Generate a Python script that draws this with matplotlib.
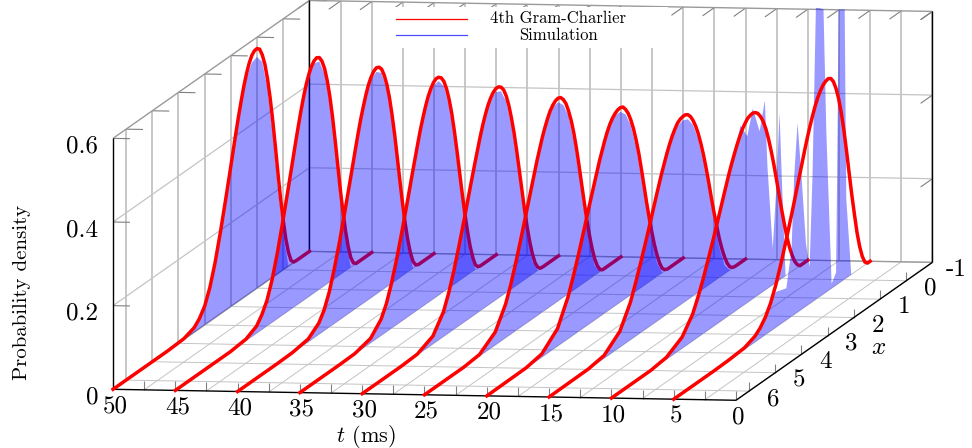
import matplotlib
matplotlib.use('Agg')
import matplotlib.pyplot as plt
from matplotlib.lines import Line2D
from matplotlib.patches import Rectangle
from mpl_toolkits.mplot3d import proj3d
from mpl_toolkits.mplot3d.art3d import Poly3DCollection

plt.rcParams['mathtext.fontset'] = 'cm'
plt.rcParams['font.family'] = ['cmr10', 'DejaVu Serif']
plt.rcParams['axes.formatter.use_mathtext'] = True

W_PX, H_PX = 972, 448

times = [50, 45, 40, 35, 30, 25, 20, 15, 10, 5]
t_grid = [0, 2.5, 5, 7.5, 10, 12.5, 15, 17.5, 20, 22.5, 25, 27.5, 30, 32.5, 35, 37.5, 40, 42.5, 45, 47.5, 50]
t_labels = [50, 45, 40, 35, 30, 25, 20, 15, 10, 5, 0]
x_ticks = [-1, 0, 1, 2, 3, 4, 5, 6]
z_ticks = [0.2, 0.4, 0.6]

# x values of the red curves
x_gc = [-1, -.9, -.8, -.7, -.6, -.5, -.4, -.3, -.2, -.1,
        0, .1, .2, .3, .4, .5, .6, .7, .8, .9,
        1, 1.1, 1.2, 1.3, 1.4, 1.5, 1.6, 1.7, 1.8, 1.9,
        2, 2.2, 2.4, 2.6, 2.8, 3, 3.2, 3.4, 3.8, 4.4, 5, 6.5]

# 4th Gram-Charlier curves
gc_50 = [0, 0, 0, 0, 0, 0, .001, .009, .033, .069,
         .118, .174, .239, .308, .374, .433, .483, .522, .549, .567,
         .573, .572, .565, .551, .531, .506, .476, .444, .409, .373,
         .336, .264, .195, .132, .081, .045, .024, .011, .002, 0, 0, 0]
gc_45 = [0, 0, 0, 0, 0, 0, 0, .006, .023, .054,
         .096, .146, .204, .268, .332, .392, .444, .486, .519, .541,
         .554, .558, .555, .546, .532, .512, .487, .458, .426, .393,
         .358, .289, .222, .158, .103, .061, .035, .017, .004, 0, 0, 0]
gc_40 = [0, 0, 0, 0, 0, 0, 0, .004, .016, .041,
         .076, .12, .172, .23, .29, .349, .401, .447, .483, .51,
         .529, .538, .541, .537, .528, .514, .494, .47, .444, .414,
         .382, .316, .252, .189, .133, .084, .049, .027, .007, .001, 0, 0]
gc_35 = [0, 0, 0, 0, 0, 0, 0, .002, .011, .033,
         .064, .104, .15, .202, .257, .313, .365, .412, .45, .48,
         .502, .515, .521, .522, .517, .507, .493, .474, .451, .426,
         .397, .337, .275, .215, .158, .108, .067, .039, .011, .001, 0, 0]
gc_30 = [0, 0, 0, 0, 0, 0, 0, .001, .008, .023,
         .048, .081, .121, .167, .218, .27, .321, .368, .408, .443,
         .47, .489, .5, .505, .505, .5, .491, .478, .46, .439,
         .415, .361, .305, .247, .192, .14, .095, .059, .019, .002, 0, 0]
gc_25 = [0, 0, 0, 0, 0, 0, 0, 0, .005, .018,
         .039, .068, .104, .145, .192, .24, .289, .335, .376, .41,
         .437, .459, .473, .482, .485, .483, .477, .468, .454, .437,
         .418, .372, .32, .268, .216, .166, .12, .081, .031, .004, 0, 0]
gc_20 = [0, 0, 0, 0, 0, 0, 0, .003, .01, .027,
         .051, .08, .115, .153, .195, .24, .284, .326, .362, .393,
         .418, .438, .452, .462, .465, .464, .46, .453, .443, .429,
         .412, .372, .326, .279, .231, .184, .14, .10, .042, .008, .001, 0]
gc_15 = [0, 0, 0, 0, 0, .002, .008, .021, .04, .064,
         .093, .127, .163, .202, .243, .282, .318, .35, .378, .401,
         .419, .433, .442, .446, .446, .444, .439, .429, .417, .402,
         .385, .346, .302, .256, .211, .168, .127, .089, .038, .007, .001, 0]
gc_10 = [0, 0, 0, 0, .007, .019, .038, .062, .091, .127,
         .165, .206, .247, .287, .323, .356, .384, .406, .422, .434,
         .441, .444, .443, .44, .432, .423, .41, .395, .378, .36,
         .341, .298, .254, .211, .17, .13, .095, .064, .027, .005, 0, 0]
gc_05 = [0, 0, .007, .025, .053, .091, .139, .19, .246, .303,
         .357, .403, .441, .47, .491, .503, .507, .505, .5, .491,
         .479, .463, .444, .423, .4, .375, .348, .322, .296, .269,
         .243, .193, .145, .102, .067, .042, .025, .014, .004, .001, 0, 0]

# x values of the simulation fills, down to t=15
x_vals = [-1, -.8, -.6, -.4, -.2, 0, .2, .4, .6, .8, 1, 1.2, 1.4, 1.6, 1.8, 2, 2.2, 2.4, 2.6, 2.8, 3, 3.2, 3.4, 3.8, 4.4, 5, 6.5]
sim_50 = [0, 0, 0, 0, 0, .085, .205, .345, .46, .532, .553, .548, .52, .47, .409, .336, .264, .195, .132, .081, .045, .024, .011, .002, 0, 0, 0]
sim_45 = [0, 0, 0, 0, 0, .075, .18, .31, .425, .505, .545, .548, .528, .486, .426, .358, .289, .222, .158, .103, .061, .035, .017, .004, 0, 0, 0]
sim_40 = [0, 0, 0, 0, 0, .058, .152, .268, .382, .47, .52, .531, .522, .49, .444, .382, .316, .252, .189, .133, .084, .049, .027, .007, .001, 0, 0]
sim_35 = [0, 0, 0, 0, 0, .045, .13, .235, .345, .435, .49, .512, .51, .488, .451, .397, .337, .275, .215, .158, .108, .067, .039, .011, .001, 0, 0]
sim_30 = [0, 0, 0, 0, 0, .03, .1, .195, .298, .39, .457, .49, .497, .486, .46, .415, .361, .305, .247, .192, .14, .095, .059, .019, .002, 0, 0]
sim_25 = [0, 0, 0, 0, 0, .022, .084, .17, .268, .357, .425, .46, .475, .472, .454, .418, .372, .32, .268, .216, .166, .12, .081, .031, .004, 0, 0]
sim_20 = [0, 0, 0, 0, 0, .032, .095, .175, .262, .345, .405, .44, .455, .455, .443, .412, .372, .326, .279, .231, .184, .14, .10, .042, .008, .001, 0]
sim_15 = [0, 0, 0, 0, .02, .072, .145, .225, .3, .365, .408, .431, .437, .432, .417, .385, .346, .302, .256, .211, .168, .127, .089, .038, .007, .001, 0]

# the last two simulation curves are spiky, so they have their own x values
x_sim_10 = [-.15, -.02, .08, .2, .34, .54, .64, .84, 1.10, 1.31, 1.57, 1.8, 2, 2.2, 2.4, 2.6, 2.8, 3, 3.2, 3.4, 3.8, 4.4, 5]
sim_10 = [0, .217, .40, .227, .087, .29, .454, .389, .455, .398, .435, .378, .341, .298, .254, .211, .17, .13, .095, .064, .027, .005, 0]
x_sim_05 = [-.28, -.09, -.03, .2, .26, .3, .47, .67, .78, .93, 1.07, 1.2, 1.31, 1.45, 1.6, 1.77, 1.9, 2, 2.2, 2.6, 2.8, 3, 3.2, 3.4, 3.8, 4.4, 5]
sim_05 = [0, .19, .645, .655, .25, .03, .011, .38, .681, .69, .697, .30, .087, .15, .30, .452, .33, .16, .076, .085, .067, .042, .025, .014, .004, .001, 0]

gc_curves = [gc_50, gc_45, gc_40, gc_35, gc_30, gc_25, gc_20, gc_15, gc_10, gc_05]
sim_xs = [x_vals] * 8 + [x_sim_10, x_sim_05]
sim_curves = [sim_50, sim_45, sim_40, sim_35, sim_30, sim_25, sim_20, sim_15, sim_10, sim_05]

T0, T1 = 50, 0
X0, X1 = 6.5, -1
ZTOP = 0.6

fig = plt.figure(figsize=(W_PX / 100, H_PX / 100), dpi=100)
ax = fig.add_axes([0, 0, 1, 1], projection='3d', proj_type='ortho', computed_zorder=False)
ax.set_xlim(T0, T1, view_margin=0)
ax.set_ylim(X0, X1, view_margin=0)
ax.set_zlim(0, ZTOP, view_margin=0)
ax.view_init(elev=6.385, azim=-81)
ax.set_box_aspect((631, 1256, 252.6))
ax.set_axis_off()


def raw(t, x, z):
    sx, sy, _ = proj3d.proj_transform(t, x, z, ax.get_proj())
    return sx, sy


# place the axes so the front left corner and the t axis land where they should
x0, y0 = raw(T0, X0, 0)
x1, y1 = raw(T1, X0, 0)
vx = ax.viewLim.intervalx
vy = ax.viewLim.intervaly
per_unit = 623 / (x1 - x0)
side = per_unit * (vx[1] - vx[0])
left = 113 - (x0 - vx[0]) * per_unit
bottom = (H_PX - 389.3) - (y0 - vy[0]) * per_unit
ax.set_position([left / W_PX, bottom / H_PX, side / W_PX, side / H_PX])


def label_at(t, x, z, dx, dy, text, **kw):
    # dx, dy in pixels from the projected point, dy pointing down
    sx, sy = raw(t, x, z)
    px = left + (sx - vx[0]) * per_unit + dx
    py = bottom + (sy - vy[0]) * per_unit - dy
    fig.text(px / W_PX, py / H_PX, text, **kw)


def seg(t, x, z, color, lw):
    ax.plot(t, x, z, color=color, lw=lw, solid_capstyle='butt', clip_on=False, zorder=2)


wall_gray = '#bdbdbd'
thin_gray = '#c4c4c4'
tick_gray = '#808080'
edge_gray = '#9a9a9a'

# floor grid
for t in t_grid:
    seg([t, t], [X0, X1], [0, 0], thin_gray, 0.7)
for x in x_ticks:
    seg([T0, T1], [x, x], [0, 0], thin_gray, 0.7)

# back wall and left wall
for t in t_grid:
    seg([t, t], [X1, X1], [0, ZTOP], wall_gray, 1.2)
for x in x_ticks[1:]:
    seg([T0, T0], [x, x], [0, ZTOP], wall_gray, 1.2)
for z in z_ticks[:-1]:
    seg([T0, T1], [X1, X1], [z, z], thin_gray, 0.9)
    seg([T0, T0], [X0, X1], [z, z], thin_gray, 0.9)

# tick marks
for t in t_grid:
    seg([t, t], [X0, X0], [0, 0.0215], tick_gray, 0.8)
    seg([t, t], [X1, X1 + 0.45], [ZTOP, ZTOP], tick_gray, 0.8)
for x in x_ticks:
    seg([T1, T1], [x, x], [0, 0.0215], tick_gray, 0.8)
    seg([T0, T0 - 1.36], [x, x], [ZTOP, ZTOP], tick_gray, 0.8)
for z in z_ticks:
    seg([T0, T0 - 1.36], [X0, X0], [z, z], tick_gray, 0.8)
    seg([T1, T1], [X1, X1 + 0.45], [z, z], tick_gray, 0.8)

# box edges
seg([T0, T1], [X1, X1], [ZTOP, ZTOP], edge_gray, 1.0)
seg([T0, T0], [X0, X1], [ZTOP, ZTOP], edge_gray, 1.0)
seg([T0, T1], [X1, X1], [0, 0], edge_gray, 1.0)
seg([T0, T0], [X0, X1], [0, 0], edge_gray, 1.0)
seg([T0, T1], [X0, X0], [0, 0], 'black', 1.0)
seg([T1, T1], [X0, X1], [0, 0], 'black', 1.0)
seg([T0, T0], [X0, X0], [0, ZTOP], 'black', 1.0)
seg([T0, T0], [X1, X1], [0, ZTOP], 'black', 1.0)
seg([T1, T1], [X1, X1], [0, ZTOP], 'black', 1.0)

# curves, oldest first so the later fills tint what is behind them
for i, (t, sx_list, sz_list, gz_list) in enumerate(zip(times, sim_xs, sim_curves, gc_curves)):
    verts = [(t, x, z) for x, z in zip(sx_list, sz_list)]
    poly = Poly3DCollection([verts], facecolors='blue', edgecolors='none', linewidths=0, alpha=0.4, zorder=5 + 2 * i)
    ax.add_collection3d(poly, autolim=False)
    ax.plot([t] * len(x_gc), x_gc, gz_list, color='red', lw=2.5, solid_joinstyle='round', clip_on=False, zorder=6 + 2 * i)

# tick labels
tick_size = 18
for t in t_labels:
    label_at(t, X0, 0, 2, 17, str(t), ha='center', va='center', fontsize=tick_size)
for x in x_ticks:
    label_at(T1, x, 0, 24, 8, str(x), ha='center', va='center', fontsize=tick_size)
label_at(T0, X0, 0, -15, 8, '0', ha='right', va='center', fontsize=tick_size)
for z in z_ticks:
    label_at(T0, X0, z, -15, 8, f'{z:.1f}', ha='right', va='center', fontsize=tick_size)

fig.text(366 / W_PX, 1 - 436 / H_PX, r'$t$ (ms)', ha='center', va='center', fontsize=16)
fig.text(879 / W_PX, 1 - 348 / H_PX, r'$x$', ha='center', va='center', fontsize=tick_size)
fig.text(22 / W_PX, 1 - 292 / H_PX, 'Probability density', rotation=90, ha='center', va='center', fontsize=15)

# legend block
fig.add_artist(Rectangle((385 / W_PX, 1 - 48 / H_PX), 283 / W_PX, 41 / H_PX, transform=fig.transFigure,
                         facecolor='white', edgecolor='none', zorder=2))
fig.add_artist(Line2D([396 / W_PX, 467 / W_PX], [1 - 19.5 / H_PX] * 2, color='red', lw=0.9, zorder=3))
fig.add_artist(Line2D([396 / W_PX, 467 / W_PX], [1 - 35 / H_PX] * 2, color='blue', lw=0.9, alpha=0.7, zorder=3))
fig.text(558 / W_PX, 1 - 18 / H_PX, '4th Gram-Charlier', ha='center', va='center', fontsize=12, zorder=4)
fig.text(558 / W_PX, 1 - 35.5 / H_PX, 'Simulation', ha='center', va='center', fontsize=12, zorder=4)

fig.savefig('out.png', dpi=100)
